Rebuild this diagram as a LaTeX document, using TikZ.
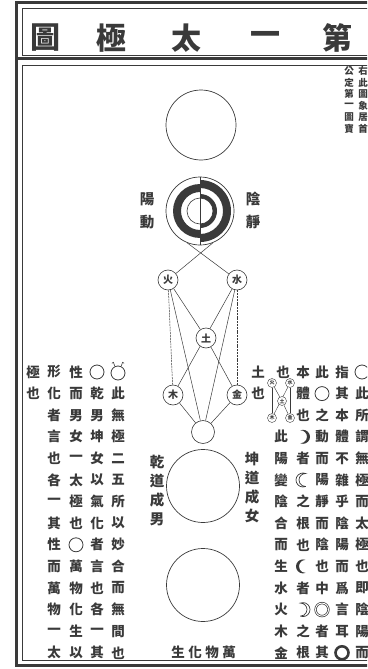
\documentclass[tikz,border=0pt]{standalone}
\usepackage{fontspec}
\newfontfamily\cjk{Noto Sans CJK TC}
\usetikzlibrary{backgrounds}
\definecolor{ink}{HTML}{3A3A3A}
\newcommand{\vcol}[4]{\foreach \c [count=\i from #3] in {#4} {\node[ch] (#1-\i) at ({#2},{372+21.6*\i}) {\c};}}
\tikzset{
  crescL/.pic={\path[pic actions] (68.2:7) arc[start angle=68.2,end angle=291.8,radius=7] arc[start angle=270.9,end angle=89.1,radius=6.5] -- cycle;},
  crescR/.pic={\path[pic actions] (111.8:7) arc[start angle=111.8,end angle=-111.8,radius=7] arc[start angle=-90.9,end angle=90.9,radius=6.5] -- cycle;}
}
\begin{document}
\begin{tikzpicture}[x=1pt,y=-1pt,
  ch/.style={font=\cjk\bfseries\fontsize{13.5}{13.5}\selectfont,text=ink,inner sep=0pt},
  sm/.style={font=\cjk\bfseries\fontsize{9.5}{9.5}\selectfont,text=ink,inner sep=0pt},
  ttl/.style={font=\cjk\bfseries\fontsize{30}{30}\selectfont,text=ink,inner sep=0pt},
  lbl/.style={font=\cjk\bfseries\fontsize{14.5}{14.5}\selectfont,text=ink,inner sep=0pt},
  bigc/.style={circle,draw=ink,line width=0.7pt,minimum size=70pt,inner sep=0pt},
  el/.style={circle,draw=ink,line width=0.6pt,fill=white,minimum size=20pt,inner sep=0pt,font=\cjk\bfseries\fontsize{10}{10}\selectfont,text=ink},
  tiny/.style={circle,draw=ink,line width=0.4pt,fill=white,minimum size=9pt,inner sep=0pt,font=\cjk\bfseries\fontsize{5}{5}\selectfont,text=ink},
  conn/.style={draw=ink,line width=0.5pt},
  dconn/.style={draw=ink,line width=0.5pt,dash pattern=on 2pt off 0.8pt},
  ico/.style={circle,draw=ink,line width=0.8pt,minimum size=14pt,inner sep=0pt},
  thickrule/.style={draw=ink,line width=3pt},
  thinrule/.style={draw=ink,line width=0.7pt}]
\path[use as bounding box] (0,0) rectangle (367,669);
\clip (0,0) rectangle (367,669);
% frame
\draw[thickrule] (380,3) -- (16,3) -- (16,665) -- (380,665);
\draw[thickrule] (16,59) -- (380,59);
\draw[thinrule] (380,8) -- (22,8) -- (22,55) -- (380,55);
\draw[thinrule] (380,65) -- (22,65) -- (22,660) -- (380,660);
% title
\node[ttl] (t1) at (45,38) {圖};
\node[ttl] (t2) at (111,38) {極};
\node[ttl] (t3) at (186,38) {太};
\node[ttl] (t4) at (265,38) {一};
\node[ttl] (t5) at (337,38) {第};
% top right small text
\foreach \c [count=\i from 0] in {公,定,第,一,圖,寶} {\node[sm] (ra-\i) at (349,{71+11.5*\i}) {\c};}
\foreach \c [count=\i from 0] in {右,此,圖,象,居,首} {\node[sm] (rb-\i) at (363,{71+11.5*\i}) {\c};}
% top circle
\node[bigc] (wuji) at (201,125) {};
% yin-yang ring
\node[bigc,minimum size=68pt] (ring) at (200,211) {};
\begin{scope}
\clip (150,160) rectangle (200,262);
\fill[ink,even odd rule] (200,211) circle[radius=27pt] circle[radius=19pt];
\end{scope}
\begin{scope}
\clip (200,160) rectangle (250,262);
\fill[ink,even odd rule] (200,211) circle[radius=31pt] circle[radius=23pt];
\fill[ink,even odd rule] (200,211) circle[radius=17pt] circle[radius=13pt];
\end{scope}
\draw[ink,line width=0.6pt] (ring.north) -- (ring.south);
\draw[ink,line width=0.6pt] (200,211) circle[radius=13pt];
\node[lbl] (yang1) at (147,199) {陽};
\node[lbl] (yang2) at (147,222) {動};
\node[lbl] (yin1) at (253,199) {陰};
\node[lbl] (yin2) at (253,222) {靜};
% five elements
\node[el] (fire) at (168,280) {火};
\node[el] (water) at (237,280) {水};
\node[el] (earth) at (206,338) {土};
\node[el] (wood) at (173,395) {木};
\node[el] (metal) at (237,395) {金};
\node[circle,draw=ink,line width=0.6pt,minimum size=23pt,inner sep=0pt] (bot) at (203,432) {};
\begin{scope}[on background layer]
\draw[conn] (fire) -- (ring.-68);
\draw[conn] (water) -- (ring.-112);
\draw[dconn] (fire) -- (wood);
\draw[dconn] (water) -- (metal);
\draw[conn] (fire) -- (earth);
\draw[conn] (earth) -- (metal);
\draw[conn] (water) -- (wood);
\draw[conn] (fire) -- (bot);
\draw[conn] (water) -- (bot);
\draw[conn] (wood) -- (bot);
\draw[conn] (metal) -- (bot);
\end{scope}
% qian-kun circle and wanwu circle
\node[bigc,minimum size=73pt] (qk) at (203,486) {};
\node[bigc,minimum size=73pt] (ww) at (203,585) {};
\foreach \c [count=\i from 0] in {乾,道,成,男} {\node[lbl] (qd-\i) at (157,{462+19*\i}) {\c};}
\foreach \c [count=\i from 0] in {坤,道,成,女} {\node[lbl] (kd-\i) at (252,{459+19*\i}) {\c};}
\foreach \c [count=\i from 0] in {生,化,物,萬} {\node[ch] (wb-\i) at ({178+17*\i},652) {\c};}
% left text block
\vcol{L0}{33}{0}{極,也}
\vcol{L1}{54}{0}{形,化,者,言,也,各,一,其,性,而,萬,物,一,太}
\vcol{L2}{76}{0}{性,而,男,女,一,太,極,也}
\node[ico] (L2-8) at (76,{372+21.6*8}) {};
\vcol{L2}{76}{9}{萬,物,化,生,以}
\node[ico] (L3-0) at (97,372) {};
\vcol{L3}{97}{1}{乾,男,坤,女,以,氣,化,者,言,也,各,一,其}
\node[ico] (L4-0) at (118,373) {};
\draw[ink,line width=0.6pt] (L4-0.115) -- ++(-1.5,-4) -- ++(-1.5,1);
\draw[ink,line width=0.6pt] (L4-0.65) -- ++(1.5,-4) -- ++(1.5,1);
\vcol{L4}{118}{1}{此,無,極,二,五,所,以,妙,合,而,無,間,也}
% right text block
\vcol{c0}{258}{0}{土,也}
\vcol{c1}{283}{0}{也}
\node[tiny] (mf) at (272,383) {火};
\node[tiny] (mw) at (290,383) {水};
\node[tiny] (me) at (282,401) {土};
\node[tiny] (mo) at (272,418) {木};
\node[tiny] (mm) at (290,418) {金};
\begin{scope}[on background layer]
\draw[ink,line width=0.4pt] (mf) -- (mo);
\draw[ink,line width=0.4pt] (mw) -- (mm);
\draw[ink,line width=0.4pt] (mf) -- (me);
\draw[ink,line width=0.4pt] (me) -- (mm);
\draw[ink,line width=0.4pt] (mw) -- (mo);
\end{scope}
\vcol{c1}{281}{3}{此,陽,變,陰,合,而,生,水,火,木,金}
\vcol{c2}{303}{0}{本,體,也}
\pic[fill=ink] at (303,{372+21.6*3}) {crescR};
\vcol{c2}{303}{4}{者}
\pic[draw=ink,line width=0.7pt] at (303,{372+21.6*5}) {crescL};
\vcol{c2}{303}{6}{之,根,也}
\pic[fill=ink] at (303,{372+21.6*9}) {crescL};
\vcol{c2}{303}{10}{者}
\pic[draw=ink,line width=0.7pt] at (303,{372+21.6*11}) {crescR};
\vcol{c2}{303}{12}{之,根}
\vcol{c3}{322}{0}{此}
\node[ico] (c3-1) at (322,{372+21.6}) {};
\vcol{c3}{322}{2}{之,動,而,陽,靜,而,陰,也,中}
\node[ico,draw=ink,double=white,double distance=0.9pt,line width=0.7pt,minimum size=13pt] (c3-11) at (322,{372+21.6*11}) {};
\vcol{c3}{322}{12}{者,其}
\vcol{c4}{342}{0}{指,其,本,體,不,雜,乎,陰,陽,而,爲,言,耳}
\node[circle,draw=ink,line width=2.6pt,minimum size=13pt,inner sep=0pt] (c4-13) at (342,{372+21.6*13}) {};
\node[ico] (c5-0) at (362,372) {};
\vcol{c5}{362}{1}{此,所,謂,無,極,而,太,極,也,即,陰,陽,而}
\end{tikzpicture}
\end{document}
